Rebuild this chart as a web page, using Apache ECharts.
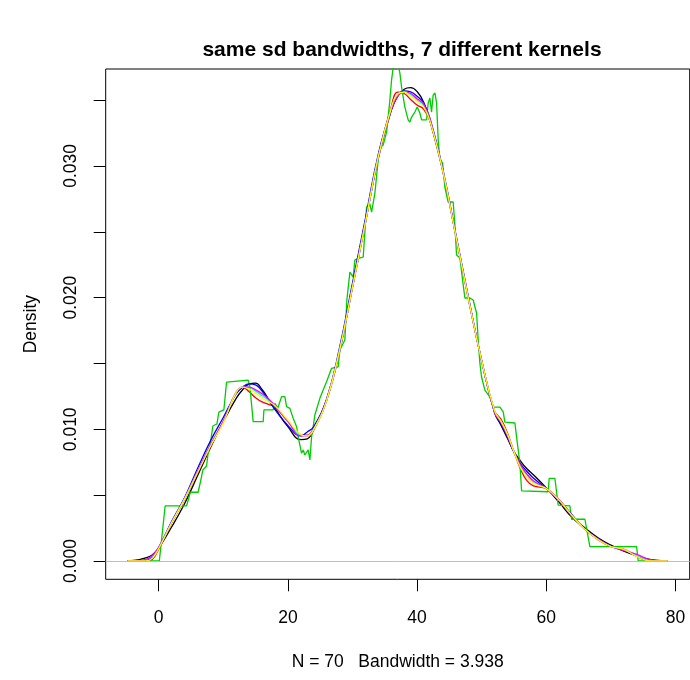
<!DOCTYPE html>
<html>
<head>
<meta charset="utf-8">
<script src="https://cdn.jsdelivr.net/npm/echarts@6/dist/echarts.min.js"></script>
<style>
  html, body { margin: 0; padding: 0; background: #fff; }
  #chart { width: 690px; height: 680px; }
</style>
</head>
<body>
<div id="chart"></div>
<script>
// grid of x positions used for the smooth kernels
const xs = [-4.8, -3, -2, -1, 0, 2, 4, 6, 8, 10, 12, 13, 14, 15, 16, 17, 18, 20, 22, 23, 24, 26, 28,
  30, 32, 34, 36, 37, 38, 39, 40, 41, 42, 44, 46, 48, 50, 52, 53, 54, 55, 56, 57, 58,
  60, 62, 64, 66, 68, 70, 72, 74, 76, 78, 78.8]

const gaussian = [0.00001, 0.00011, 0.00023, 0.00046, 0.00098, 0.00258, 0.00435, 0.00645, 0.00858, 0.01057,
  0.01235, 0.01300, 0.01343, 0.01350, 0.01302, 0.01230, 0.01160, 0.01020, 0.00922, 0.00928, 0.00995,
  0.01220, 0.01590, 0.02079, 0.02570, 0.03060, 0.03420, 0.03530, 0.03582, 0.03594, 0.03565, 0.03485,
  0.03340, 0.02955, 0.02471, 0.01979, 0.01520, 0.01125, 0.01030, 0.00930, 0.00830, 0.00760, 0.00700,
  0.00655, 0.00555, 0.00445, 0.00330, 0.00250, 0.00176, 0.00120, 0.00075, 0.00040, 0.00013, 0.00002, 0.00001]

const epanechnikov = [0, 0, 0, 0.00012, 0.00090, 0.00290, 0.00470, 0.00670, 0.00870, 0.01060,
  0.01280, 0.01318, 0.01285, 0.01240, 0.01208, 0.01190, 0.01170, 0.01060, 0.00960, 0.00955, 0.01010,
  0.01225, 0.01600, 0.02080, 0.02570, 0.03070, 0.03450, 0.03560, 0.03550, 0.03505, 0.03462, 0.03432,
  0.03340, 0.02960, 0.02470, 0.01980, 0.01520, 0.01140, 0.01075, 0.00970, 0.00830, 0.00700, 0.00610,
  0.00570, 0.00550, 0.00465, 0.00345, 0.00240, 0.00162, 0.00110, 0.00090, 0.00035, 0, 0, 0]

const triangular = [0, 0, 0.00005, 0.00030, 0.00100, 0.00300, 0.00480, 0.00700, 0.00910, 0.01090,
  0.01270, 0.01320, 0.01345, 0.01338, 0.01290, 0.01220, 0.01150, 0.01030, 0.00950, 0.00980, 0.01020,
  0.01230, 0.01620, 0.02110, 0.02600, 0.03090, 0.03430, 0.03530, 0.03570, 0.03562, 0.03530, 0.03480,
  0.03360, 0.02970, 0.02480, 0.01990, 0.01520, 0.01130, 0.01040, 0.00940, 0.00825, 0.00740, 0.00680,
  0.00630, 0.00550, 0.00460, 0.00350, 0.00240, 0.00168, 0.00112, 0.00080, 0.00040, 0.00004, 0, 0]

const biweight = [0, 0.00001, 0.00010, 0.00035, 0.00100, 0.00290, 0.00470, 0.00680, 0.00880, 0.01060,
  0.01280, 0.01320, 0.01318, 0.01290, 0.01255, 0.01220, 0.01180, 0.01060, 0.00955, 0.00950, 0.01000,
  0.01220, 0.01600, 0.02080, 0.02570, 0.03070, 0.03435, 0.03540, 0.03560, 0.03540, 0.03500, 0.03460,
  0.03350, 0.02960, 0.02470, 0.01980, 0.01520, 0.01135, 0.01060, 0.00960, 0.00830, 0.00720, 0.00650,
  0.00600, 0.00550, 0.00460, 0.00342, 0.00240, 0.00165, 0.00110, 0.00085, 0.00045, 0.00007, 0, 0]

const cosine = [0, 0.00002, 0.00012, 0.00040, 0.00105, 0.00290, 0.00470, 0.00680, 0.00880, 0.01060,
  0.01280, 0.01320, 0.01320, 0.01300, 0.01270, 0.01230, 0.01180, 0.01060, 0.00950, 0.00950, 0.01000,
  0.01220, 0.01600, 0.02080, 0.02570, 0.03065, 0.03430, 0.03530, 0.03560, 0.03550, 0.03510, 0.03470,
  0.03350, 0.02960, 0.02470, 0.01980, 0.01520, 0.01130, 0.01050, 0.00950, 0.00830, 0.00730, 0.00660,
  0.00610, 0.00550, 0.00460, 0.00340, 0.00240, 0.00168, 0.00110, 0.00080, 0.00050, 0.00010, 0, 0]

const optcosine = [0, 0, 0.00001, 0.00020, 0.00095, 0.00290, 0.00470, 0.00670, 0.00870, 0.01050,
  0.01280, 0.01320, 0.01305, 0.01275, 0.01238, 0.01210, 0.01180, 0.01070, 0.00960, 0.00950, 0.01000,
  0.01220, 0.01600, 0.02080, 0.02570, 0.03070, 0.03440, 0.03545, 0.03560, 0.03530, 0.03490, 0.03450,
  0.03340, 0.02960, 0.02470, 0.01980, 0.01520, 0.01140, 0.01060, 0.00960, 0.00830, 0.00710, 0.00640,
  0.00590, 0.00550, 0.00462, 0.00345, 0.00240, 0.00163, 0.00110, 0.00088, 0.00035, 0.00001, 0, 0]

// rectangular kernel is a step curve, traced point by point
const rectangular = [
  [-4.8, 0], [0.1, 0], [1.0, 0.00418], [4.32, 0.00418], [4.9, 0.00522], [6.11, 0.00522], [6.53, 0.00615],
  [6.84, 0.00691], [7.41, 0.00721], [7.62, 0.00805], [8.08, 0.00919], [8.39, 0.01025], [9.01, 0.01040],
  [9.32, 0.01131], [10.09, 0.01147], [10.51, 0.01359], [13.85, 0.01374], [14.12, 0.01323], [14.63, 0.01058],
  [16.18, 0.01058], [16.29, 0.01147], [17.72, 0.01147], [17.99, 0.01197], [18.45, 0.01162], [19.02, 0.01248],
  [19.53, 0.01248], [19.80, 0.01172], [20.31, 0.01159], [20.82, 0.01084], [21.35, 0.01020], [21.59, 0.00944],
  [22.12, 0.00818], [22.37, 0.00843], [22.63, 0.00805], [23.14, 0.00843], [23.41, 0.00767], [23.67, 0.00944],
  [23.92, 0.01020], [24.18, 0.01109], [24.44, 0.01096], [24.95, 0.01235], [25.46, 0.01298], [25.99, 0.01361],
  [26.76, 0.01463], [27.79, 0.01475], [28.05, 0.01602], [28.82, 0.01678], [29.13, 0.01982], [29.60, 0.02194],
  [30.11, 0.02156], [30.37, 0.02285], [30.88, 0.02298], [31.66, 0.02308], [32.18, 0.02688], [32.69, 0.02711],
  [32.96, 0.02650], [33.47, 0.02794], [33.98, 0.03045], [34.24, 0.03136], [34.75, 0.03159], [35.28, 0.03257],
  [35.79, 0.03500], [36.05, 0.03652], [36.33, 0.03760], [37.10, 0.03760], [37.34, 0.03705], [37.60, 0.03599],
  [38.11, 0.03447], [38.62, 0.03349], [38.89, 0.03333], [39.15, 0.03371], [39.66, 0.03409], [40.02, 0.03447],
  [40.43, 0.03402], [40.70, 0.03349], [41.47, 0.03349], [41.72, 0.03478], [41.98, 0.03516], [42.24, 0.03409],
  [42.49, 0.03538], [42.76, 0.03554], [43.02, 0.03478], [43.27, 0.03197], [43.53, 0.03045], [43.95, 0.03022],
  [44.30, 0.02840], [44.81, 0.02726], [45.59, 0.02726], [45.85, 0.02551], [46.11, 0.02323], [46.63, 0.02301],
  [47.14, 0.02096], [47.40, 0.01997], [48.17, 0.01997], [48.68, 0.01982], [49.21, 0.01883], [49.46, 0.01678],
  [49.72, 0.01503], [49.98, 0.01397], [50.50, 0.01298], [51.27, 0.01245], [51.78, 0.01169], [52.83, 0.01169],
  [53.34, 0.01131], [53.59, 0.01055], [55.14, 0.01048], [55.40, 0.00942], [55.91, 0.00744], [56.18, 0.00532],
  [60.29, 0.00526], [60.45, 0.00628], [61.33, 0.00628], [61.84, 0.00425], [63.65, 0.00418], [63.92, 0.00317],
  [65.98, 0.00317], [66.75, 0.00109], [73.98, 0.00109], [74.23, 0], [78.8, 0]
]

const xTicks = [0, 20, 40, 60, 80]
const yTicks = [0, 0.005, 0.01, 0.015, 0.02, 0.025, 0.03, 0.035]
const yLabels = [0, 0.01, 0.02, 0.03]

const font = 'Liberation Sans, Arial, sans-serif'

function smoothLine (name, values, color) {
  return {
    name,
    type: 'line',
    data: xs.map((x, i) => [x, values[i]]),
    smooth: 0.45,
    showSymbol: false,
    silent: true,
    lineStyle: { color, width: 1.3 },
  }
}

const chart = echarts.init(document.getElementById('chart'), null, { renderer: 'canvas' })

chart.setOption({
  animation: false,
  backgroundColor: '#fff',
  title: {
    text: 'same sd bandwidths, 7 different kernels',
    left: 397,
    top: 35,
    textAlign: 'center',
    textStyle: { fontFamily: font, fontWeight: 'bold', fontSize: 21, color: '#000' },
  },
  grid: {
    left: 105.7,
    top: 69,
    width: 584,
    height: 510.3,
    show: true,
    borderColor: '#000',
    borderWidth: 1,
    backgroundColor: 'transparent',
  },
  xAxis: {
    type: 'value',
    min: -8.2,
    max: 82.2,
    name: 'N = 70   Bandwidth = 3.938',
    nameLocation: 'middle',
    nameGap: 74,
    nameTextStyle: { fontFamily: font, fontSize: 17.5, color: '#000' },
    axisLine: { show: false, onZero: false },
    axisTick: { show: true, customValues: xTicks, length: 12, lineStyle: { color: '#000' } },
    axisLabel: { customValues: xTicks, margin: 30, fontFamily: font, fontSize: 17.5, color: '#000' },
    splitLine: { show: false },
  },
  yAxis: {
    type: 'value',
    min: -0.00139,
    max: 0.03736,
    name: 'Density',
    nameLocation: 'middle',
    nameGap: 66,
    nameRotate: 90,
    nameTextStyle: { fontFamily: font, fontSize: 17.5, color: '#000' },
    axisLine: { show: false, onZero: false },
    axisTick: { show: true, customValues: yTicks, length: 12, lineStyle: { color: '#000' } },
    axisLabel: {
      customValues: yLabels,
      rotate: 90,
      margin: 26,
      fontFamily: font,
      fontSize: 17.5,
      color: '#000',
      formatter: v => v.toFixed(3),
    },
    splitLine: { show: false },
  },
  series: [
    Object.assign(smoothLine('gaussian', gaussian, '#000000'), {
      markLine: {
        silent: true,
        symbol: 'none',
        label: { show: false },
        lineStyle: { color: '#bebebe', type: 'solid', width: 1 },
        data: [{ yAxis: 0 }],
      },
    }),
    smoothLine('epanechnikov', epanechnikov, '#ff0000'),
    {
      name: 'rectangular',
      type: 'line',
      data: rectangular,
      showSymbol: false,
      silent: true,
      lineStyle: { color: '#00cd00', width: 1.3 },
    },
    smoothLine('triangular', triangular, '#0000ff'),
    smoothLine('biweight', biweight, '#00ffff'),
    smoothLine('cosine', cosine, '#ff00ff'),
    smoothLine('optcosine', optcosine, '#ffff00'),
  ],
})
</script>
</body>
</html>
